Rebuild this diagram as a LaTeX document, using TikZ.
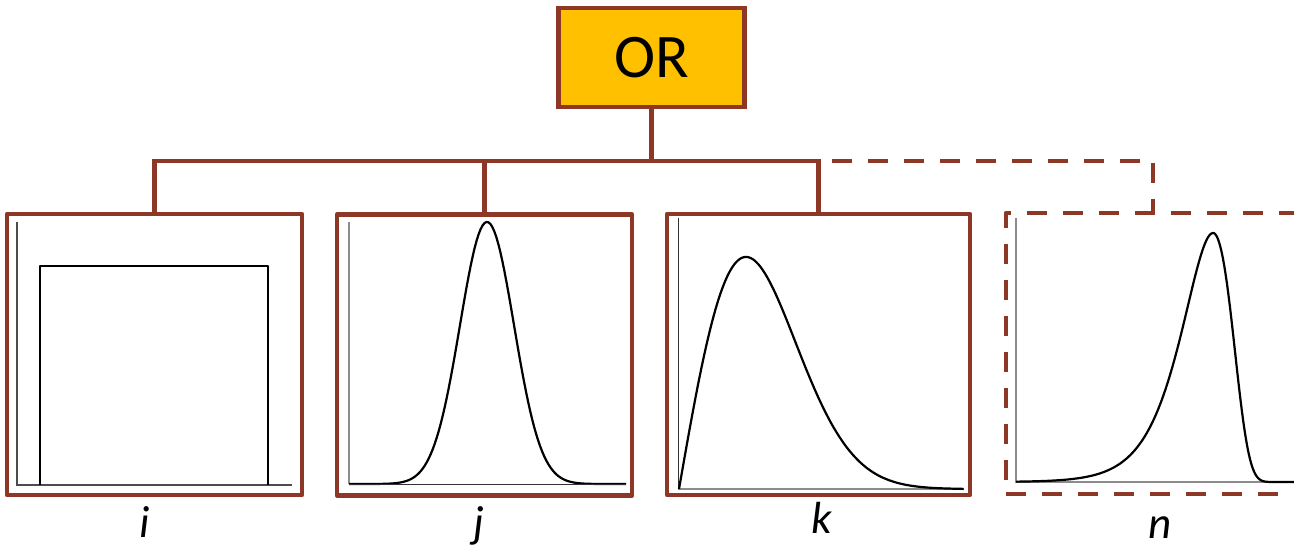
\documentclass[tikz,border=0pt]{standalone}
\usepackage{fontspec}
\setmainfont{Carlito}
\definecolor{brn}{RGB}{141,56,38}
\definecolor{gold}{RGB}{255,192,0}
\definecolor{axg}{RGB}{140,140,140}
\begin{document}
\begin{tikzpicture}[x=1pt,y=-1pt,
  box/.style={draw=brn,line width=4.5pt,minimum width=#1,minimum height=281pt,inner sep=0pt,line join=round},
  dbox/.style={box=#1,dash pattern=on 20pt off 16pt},
  conn/.style={draw=brn,line width=4.5pt},
  dconn/.style={conn,dash pattern=on 20pt off 16pt},
  axis/.style={draw=axg,line width=1.3pt},
  curve/.style={draw=black,line width=2.2pt,line join=round},
  lbl/.style={font=\fontsize{45}{50}\selectfont\itshape,anchor=base,inner sep=0pt}]
\useasboundingbox (0,0) rectangle (1294,548);
\clip (0,0) rectangle (1294,548);
% OR node
\node[draw=brn,fill=gold,line width=4.5pt,minimum width=186pt,minimum height=99pt,inner sep=0pt,
      font=\fontsize{62}{66}\selectfont] (or) at (651.5,57.5) {OR};
% boxes
\node[box=295pt] (i) at (154.5,354.5) {};
\node[box=295pt] (j) at (484.5,355) {};
\node[box=303pt] (k) at (818.5,354.5) {};
\node[dbox=294pt] (n) at (1153,353.5) {};
\coordinate (bus) at (0,161);
% connectors
\draw[dconn] (or.south |- bus) -| (n.north);
\draw[conn] (i.north) -- (i.north |- bus) -| (k.north);
\draw[conn] (j.north) -- (j.north |- bus);
\draw[conn] (or.south) -- (or.south |- bus);
% plot i
\draw[axis,draw=black!70] (17,222) -- (17,485) -- (292,485);
\draw[curve] (40,485) -- (40,266) -- (268,266) -- (268,485);
% plot j
\draw[axis] (349,222) -- (349,484);
\draw[curve] plot[domain=349:626,samples=140] (\x,{484-262*exp(-((\x-487)/27)^2/2)});
\draw[axis,draw=black!80,line width=1pt] (349,484) -- (626,484);
% plot k
\draw[axis,draw=black!80,line width=1pt] (678,218) -- (678,489);
\draw[axis] (678,489) -- (964,489);
\draw[curve] plot[domain=0:4.25,samples=140] ({679+67*\x},{489-232*\x*exp(-\x*\x/2)/0.6065});
% plot n
\draw[axis] (1016,218) -- (1016,482) -- (1294,482);
\draw[curve] plot[domain=1016:1213,samples=120] (\x,{482-249*exp(1-(1213-\x)/26-exp(-(1213-\x)/26))})
  -- plot[domain=1213:1294,samples=80] (\x,{482-249*exp(1-(1213-\x)/23-exp(-(1213-\x)/23))});
% labels
\node[lbl] (li) at (145,537) {i};
\node[lbl] (lj) at (479,537) {j};
\node[lbl] (lk) at (822,533) {k};
\node[lbl] (ln) at (1160,538) {n};
\end{tikzpicture}
\end{document}
